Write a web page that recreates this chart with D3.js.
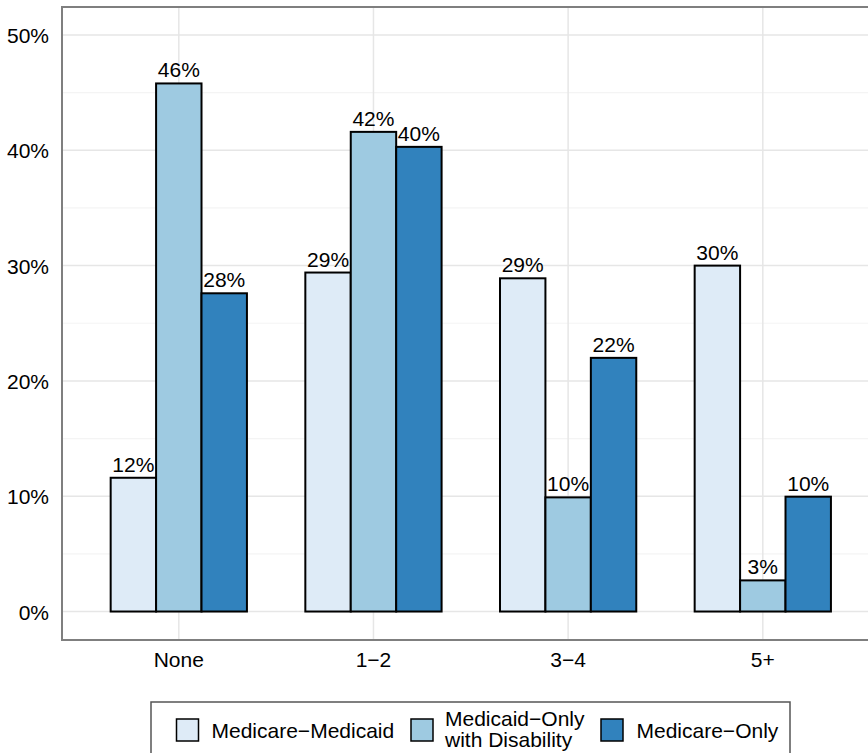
<!DOCTYPE html>
<html>
<head>
<meta charset="utf-8">
<script src="https://cdn.jsdelivr.net/npm/d3@7"></script>
<style>
  body { margin: 0; background: #fff; }
  svg text { font-family: "Liberation Sans", Arial, sans-serif; fill: #000; }
</style>
</head>
<body>
<div id="chart"></div>
<script>
// data
var categories = ["None", "1\u22122", "3\u22124", "5+"];
var seriesNames = ["Medicare\u2212Medicaid", "Medicaid\u2212Only with Disability", "Medicare\u2212Only"];
var medicareMedicaid = [11.6, 29.4, 28.9, 30.0];
var medicaidOnlyDisability = [45.8, 41.6, 9.9, 2.7];
var medicareOnly = [27.6, 40.3, 22.0, 9.96];
var yTicks = [0, 10, 20, 30, 40, 50];
var yMinor = [5, 15, 25, 35, 45];
var colors = ["#deebf7", "#9ecae1", "#3182bd"];

var W = 868, H = 753;
var panelLeft = 62, panelTop = 7, panelBottom = 640, panelRight = 879.6;

var svg = d3.select("#chart").append("svg")
    .attr("width", W)
    .attr("height", H);

var x = d3.scaleBand()
    .domain(categories)
    .range([panelLeft, panelRight])
    .paddingInner(0)
    .paddingOuter(0.1);

var step = x.step();

var xs = d3.scaleBand()
    .domain(seriesNames)
    .range([0, step * 0.7]);

var y = d3.scaleLinear()
    .domain([-2.47, 52.43])
    .range([panelBottom, panelTop]);

// minor grid
svg.append("g")
    .selectAll("line")
    .data(yMinor)
    .join("line")
    .attr("x1", panelLeft).attr("x2", panelRight)
    .attr("y1", d => y(d)).attr("y2", d => y(d))
    .attr("stroke", "#f4f4f4")
    .attr("stroke-width", 1.2);

// major grid
svg.append("g")
    .selectAll("line")
    .data(yTicks)
    .join("line")
    .attr("x1", panelLeft).attr("x2", panelRight)
    .attr("y1", d => y(d)).attr("y2", d => y(d))
    .attr("stroke", "#e6e6e6")
    .attr("stroke-width", 1.5);

svg.append("g")
    .selectAll("line")
    .data(categories)
    .join("line")
    .attr("x1", d => x(d) + step / 2).attr("x2", d => x(d) + step / 2)
    .attr("y1", panelTop).attr("y2", panelBottom)
    .attr("stroke", "#e6e6e6")
    .attr("stroke-width", 1.5);

var rows = categories.map(function(c, i) {
    return {cat: c, vals: [medicareMedicaid[i], medicaidOnlyDisability[i], medicareOnly[i]]};
});

var groups = svg.append("g")
    .selectAll("g")
    .data(rows)
    .join("g")
    .attr("transform", d => "translate(" + (x(d.cat) + step * 0.15) + ",0)");

groups.selectAll("rect")
    .data(d => d.vals.map((v, j) => ({name: seriesNames[j], v: v, j: j})))
    .join("rect")
    .attr("x", d => xs(d.name))
    .attr("width", xs.bandwidth())
    .attr("y", d => y(d.v))
    .attr("height", d => y(0) - y(d.v))
    .attr("fill", d => colors[d.j])
    .attr("stroke", "#000")
    .attr("stroke-width", 2);

groups.selectAll("text")
    .data(d => d.vals.map((v, j) => ({name: seriesNames[j], v: v, j: j})))
    .join("text")
    .attr("x", d => xs(d.name) + xs.bandwidth() / 2)
    .attr("y", d => y(d.v) - 6)
    .attr("text-anchor", "middle")
    .style("font-size", "21px")
    .text(d => Math.round(d.v) + "%");

// panel border
svg.append("rect")
    .attr("x", panelLeft).attr("y", panelTop)
    .attr("width", panelRight - panelLeft).attr("height", panelBottom - panelTop)
    .attr("fill", "none")
    .attr("stroke", "#7f7f7f")
    .attr("stroke-width", 2);

// axes
var yAxis = d3.axisLeft(y)
    .tickValues(yTicks)
    .tickSize(0)
    .tickPadding(13)
    .tickFormat(d => d + "%");

var gy = svg.append("g")
    .attr("transform", "translate(" + panelLeft + ",0)")
    .call(yAxis);
gy.select(".domain").remove();
gy.selectAll("text").style("font-size", "21px").attr("dy", "0.36em");

var xAxis = d3.axisBottom(x)
    .tickSize(0)
    .tickPadding(12);

var gx = svg.append("g")
    .attr("transform", "translate(0," + panelBottom + ")")
    .call(xAxis);
gx.select(".domain").remove();
gx.selectAll("text").style("font-size", "21px").attr("dy", "0.71em");

// legend
var legend = svg.append("g");
legend.append("rect")
    .attr("x", 151).attr("y", 702)
    .attr("width", 639).attr("height", 58)
    .attr("fill", "#fff")
    .attr("stroke", "#555")
    .attr("stroke-width", 1.5);

var legendItems = [
    {keyX: 176.5, textX: 211.5, lines: ["Medicare\u2212Medicaid"]},
    {keyX: 411, textX: 445, lines: ["Medicaid\u2212Only", "with Disability"]},
    {keyX: 601, textX: 636.5, lines: ["Medicare\u2212Only"]}
];

legendItems.forEach(function(it, i) {
    legend.append("rect")
        .attr("x", it.keyX).attr("y", 719)
        .attr("width", 22).attr("height", 22)
        .attr("fill", colors[i])
        .attr("stroke", "#000")
        .attr("stroke-width", 1.5);
    var t = legend.append("text")
        .attr("x", it.textX)
        .style("font-size", "21px");
    if (it.lines.length === 1) {
        t.attr("y", 738).text(it.lines[0]);
    } else {
        t.append("tspan").attr("x", it.textX).attr("y", 726).text(it.lines[0]);
        t.append("tspan").attr("x", it.textX).attr("y", 747).text(it.lines[1]);
    }
});
</script>
</body>
</html>
